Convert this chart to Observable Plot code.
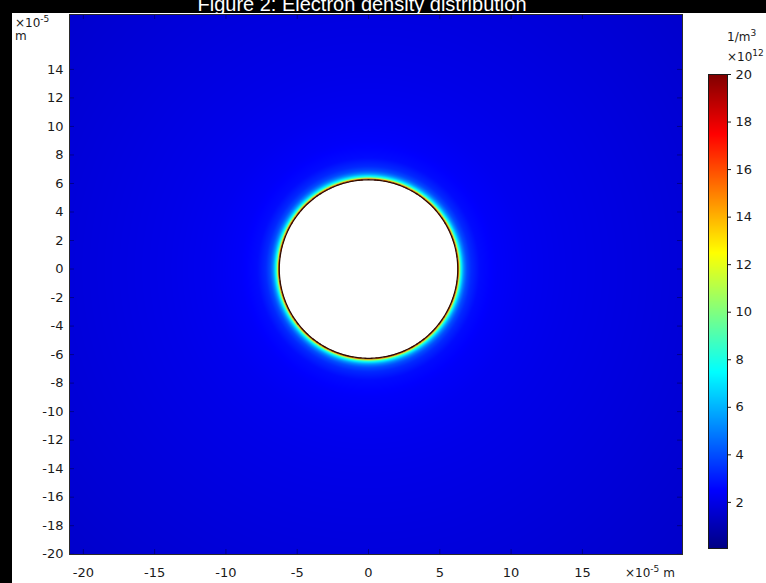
<!DOCTYPE html>
<html>
<head>
<meta charset="utf-8">
<script src="https://cdn.jsdelivr.net/npm/d3@7"></script>
<script src="https://cdn.jsdelivr.net/npm/@observablehq/plot@0.6"></script>
<style>
  html, body { margin: 0; padding: 0; background: #000; width: 766px; height: 583px; overflow: hidden; }
  #panel { position: absolute; left: 12px; top: 13px; width: 754px; height: 570px; background: #fff; }
  #title { position: absolute; left: 362px; top: -6px; transform: translateX(-50%); white-space: nowrap;
           font: 20px/20px "Liberation Sans", Arial, sans-serif; color: #fff; }
  .unit { position: absolute; font-family: "DejaVu Sans", sans-serif; font-size: 12px; color: #1a1a1a; white-space: nowrap; line-height: 12px; }
  .unit sup { font-size: 9px; vertical-align: 5px; line-height: 0; }
  #main, #bar { position: absolute; top: 0; }
  #main { left: 0; }
  #bar { left: 700px; }
</style>
</head>
<body>
<div id="panel"></div>
<div id="title">Figure 2: Electron density distribution</div>
<div id="main"></div>
<div id="bar"></div>
<div class="unit" style="left:15px; top:17px;">×10<sup>-5</sup></div>
<div class="unit" style="left:15px; top:30px;">m</div>
<div class="unit" style="left:625px; top:567px;">×10<sup>-5</sup> m</div>
<div class="unit" style="left:727px; top:31px;">1/m<sup>3</sup></div>
<div class="unit" style="left:727px; top:51px;">×10<sup>12</sup></div>
<script>
// Axis ticks (coordinates in units of 1e-5 m)
const xTicks = [-20, -15, -10, -5, 0, 5, 10, 15];
const yTicks = [-20, -18, -16, -14, -12, -10, -8, -6, -4, -2, 0, 2, 4, 6, 8, 10, 12, 14];
const colorTicks = [2, 4, 6, 8, 10, 12, 14, 16, 18, 20];

// Plotted region
const xExtent = [-20.97, 22.02];
const yExtent = [-20.02, 17.85];
const densityRange = [0.06, 20];

// Radius of the empty (white) disk centred at the origin
const holeRadius = 6.26;

// Radial electron density profile outside the disk (radius in 1e-5 m, density in 1e12 1/m^3)
const profileRadius  = [6.26, 6.30, 6.34, 6.40, 6.48, 6.58, 6.72, 6.90, 7.20, 7.80, 9.0,  11.0, 14.0, 18.0, 22.0, 26.0, 30.0];
const profileDensity = [20.0, 17.0, 13.0, 10.0, 8.0,  6.4,  5.0,  4.0,  3.3,  2.7,  2.4,  2.2,  2.05, 1.9,  1.75, 1.6,  1.45];

// Rainbow (jet) colour map stops
const jetStops  = [0, 2.5, 7.5, 12.5, 17.5, 20];
const jetColors = ["#000080", "#0000ff", "#00ffff", "#ffff00", "#ff0000", "#800000"];

const profile = d3.scaleLinear(profileRadius, profileDensity).clamp(true);
const density = (x, y) => {
  const r = Math.hypot(x, y);
  return r < holeRadius ? NaN : profile(r);
};

// Boundary of the disk
const rim = d3.range(0, 361, 1).map(a => ({
  x: holeRadius * Math.cos(a * Math.PI / 180),
  y: holeRadius * Math.sin(a * Math.PI / 180)
}));

const colorScale = {type: "linear", domain: jetStops, range: jetColors, clamp: true, interpolate: "rgb"};
const axisStyle = {background: "transparent", fontFamily: "DejaVu Sans, sans-serif", fontSize: "13px", color: "#1a1a1a", overflow: "visible"};
const plain = d => String(d);

const tickLen = 0.35;
const tickStyle = {stroke: "#000", strokeOpacity: 0.35};

const main = Plot.plot({
  width: 766,
  height: 583,
  marginLeft: 69,
  marginRight: 84,
  marginTop: 14,
  marginBottom: 29,
  style: axisStyle,
  x: {domain: xExtent, ticks: xTicks, tickFormat: plain, tickSize: 0, tickPadding: 13, label: null},
  y: {domain: yExtent, ticks: yTicks, tickFormat: plain, tickSize: 0, tickPadding: 6, label: null},
  color: colorScale,
  marks: [
    Plot.raster({fill: density, x1: xExtent[0], x2: xExtent[1], y1: yExtent[0], y2: yExtent[1]}),
    Plot.line(rim, {x: "x", y: "y", stroke: "#2e0c00", strokeWidth: 1.3}),
    Plot.ruleX(xTicks, {x: d => d, y1: yExtent[0], y2: yExtent[0] + tickLen, ...tickStyle}),
    Plot.ruleX(xTicks, {x: d => d, y1: yExtent[1], y2: yExtent[1] - tickLen, ...tickStyle}),
    Plot.ruleY(yTicks, {y: d => d, x1: xExtent[0], x2: xExtent[0] + tickLen, ...tickStyle}),
    Plot.ruleY(yTicks, {y: d => d, x1: xExtent[1], x2: xExtent[1] - tickLen, ...tickStyle}),
    Plot.frame({stroke: "#2b2b2b"})
  ]
});
document.getElementById("main").append(main);

// Vertical colour bar
const bar = Plot.plot({
  width: 66,
  height: 583,
  marginLeft: 8,
  marginRight: 39,
  marginTop: 74,
  marginBottom: 35,
  style: axisStyle,
  x: {domain: [0, 1], axis: null},
  y: {domain: densityRange, ticks: colorTicks, tickFormat: plain, axis: "right", tickSize: 3, tickPadding: 5, label: null},
  color: colorScale,
  marks: [
    Plot.raster({fill: (x, y) => y, x1: 0, x2: 1, y1: densityRange[0], y2: densityRange[1]}),
    Plot.frame({stroke: "#1a1a1a"})
  ]
});
document.getElementById("bar").append(bar);
</script>
</body>
</html>
